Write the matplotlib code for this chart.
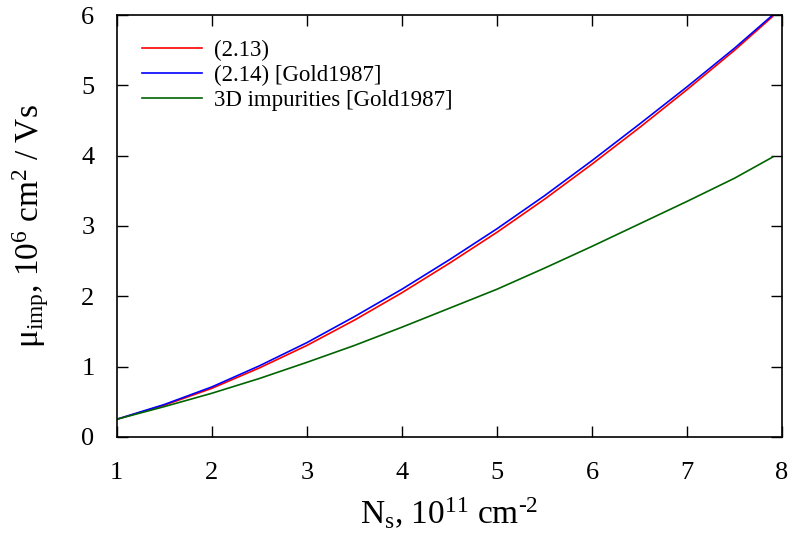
import matplotlib
matplotlib.use("Agg")
import matplotlib.pyplot as plt

plt.rcParams['font.family'] = ['Liberation Serif', 'DejaVu Serif']
plt.rcParams['mathtext.fontset'] = 'custom'
plt.rcParams['mathtext.rm'] = 'Liberation Serif'
plt.rcParams['mathtext.it'] = 'Liberation Serif:italic'

# sheet density, 10^11 cm^-2
ns = [1.0, 1.5, 2.0, 2.5, 3.0, 3.5, 4.0, 4.5, 5.0, 5.5, 6.0, 6.5, 7.0, 7.5, 7.9]
# mobility, 10^6 cm^2/Vs
mu_213 = [0.25, 0.45, 0.69, 0.98, 1.30, 1.66, 2.05, 2.47, 2.91, 3.38, 3.88, 4.40, 4.94, 5.50, 5.98]
mu_214 = [0.25, 0.46, 0.71, 1.01, 1.34, 1.71, 2.10, 2.52, 2.96, 3.43, 3.93, 4.45, 4.98, 5.53, 6.00]
mu_3d = [0.25, 0.43, 0.62, 0.83, 1.06, 1.30, 1.56, 1.83, 2.10, 2.40, 2.71, 3.03, 3.35, 3.68, 3.98]

labels = ['(2.13)', '(2.14) [Gold1987]', '3D impurities [Gold1987]']
colors = ['#ff0000', '#0000ff', '#006400']

fig = plt.figure(figsize=(7.94, 5.40), dpi=100)
ax = fig.add_axes([0.147, 0.191, 0.838, 0.781])

for y, lab, c in zip([mu_213, mu_214, mu_3d], labels, colors):
    ax.plot(ns, y, color=c, lw=1.2, label=lab)

ax.set_xlim(1, 8)
ax.set_ylim(0, 6)
ax.set_xticks(range(1, 9))
ax.set_yticks(range(0, 7))
ax.tick_params(direction='in', length=8, width=1, top=True, right=True,
               labelsize=19)
ax.tick_params(axis='x', pad=18)
ax.tick_params(axis='y', pad=16)
for s in ax.spines.values():
    s.set_linewidth(1.2)

ax.set_xlabel('N$_\\mathregular{s}$, 10$^\\mathregular{11}$ cm$^\\mathregular{\\text{-}2}$',
              fontsize=24, labelpad=9)
ax.set_ylabel('μ$_\\mathregular{imp}$, 10$^\\mathregular{6}$ cm$^\\mathregular{2}$ / Vs',
              fontsize=24, labelpad=22)

ax.legend(loc='upper left', frameon=False, fontsize=16.5, handlelength=2.6,
          handletextpad=0.55, labelspacing=0.15, borderaxespad=0.7)

fig.savefig('out.png', dpi=100)
